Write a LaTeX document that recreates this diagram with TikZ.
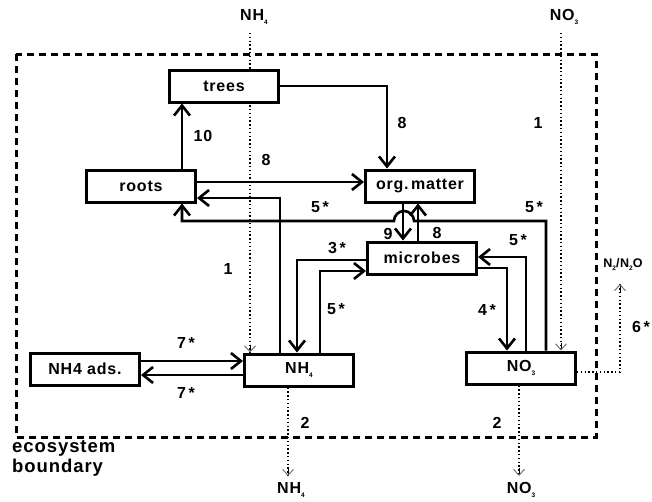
\documentclass[tikz,border=0pt]{standalone}
\usepackage{fontspec}
\usepackage{tikz}
\usetikzlibrary{arrows.meta,backgrounds}
\newfontfamily\diagfont[LetterSpace=5]{Liberation Sans}
\newcommand{\idx}[1]{\raisebox{-0.45ex}{\fontsize{6.5}{7}\selectfont #1}}

\begin{document}
\begin{tikzpicture}[
  x=1pt, y=-1pt,
  box/.style={draw,fill=white,line width=3pt,minimum width=109pt,minimum height=32pt,
              inner sep=0pt,font=\diagfont\bfseries\fontsize{16}{18}\selectfont},
  arrow/.style={-{Straight Barb[length=10pt,width=16pt]},line width=2.6pt},
  flow/.style={line width=1.6pt,dash pattern=on 1.4pt off 2.4pt},
  flowtip/.style={-{Straight Barb[length=6pt,width=11pt,line width=1pt,color=black!55]}},
  lbl/.style={font=\diagfont\bfseries\fontsize{16}{18}\selectfont,inner sep=0pt},
  small/.style={font=\diagfont\bfseries\fontsize{12.5}{14}\selectfont,inner sep=0pt}
]
\useasboundingbox (0,0) rectangle (652,501);
% ecosystem boundary
\draw[line width=3pt,dash pattern=on 7pt off 5pt] (16,54) rectangle (596,437);
\node[font=\diagfont\bfseries\fontsize{18.5}{20}\selectfont,align=left,anchor=north west,inner sep=0pt]
  (bnd) at (12,440) {ecosystem\\boundary};

% pools
\node[box] (trees) at (224,86) {trees};
\node[box] (roots) at (141,186) {roots};
\node[box] (org) at (420,186) {org.\hspace{0.15em}matter};
\node[box] (mic) at (422,258) {microbes};
\node[box] (ads) at (85,369) {NH4 ads.};
\node[box] (nh) at (299,370) {NH\idx{4}};
\node[box] (no) at (521,368) {NO\idx{3}};

% inputs and outputs
\node[lbl] (nhin) at (254,17) {NH\idx{4}};
\node[lbl] (noin) at (564,17) {NO\idx{3}};
\node[lbl] (nhout) at (291,490) {NH\idx{4}};
\node[lbl] (noout) at (521,490) {NO\idx{3}};
\node[small] (gas) at (623,264) {N\idx{2}/N\idx{2}O};
\coordinate (nhsrc) at (250,33);
\coordinate (nosrc) at (561,33);
\coordinate (nhsink) at (288,476);
\coordinate (nosink) at (519,476);
\coordinate (gassink) at (620,284);

\begin{pgfonlayer}{background}
\draw[flow] (nhsrc) -- (nhsrc |- nh.north)
  node[lbl,at={(266,160)}] {8} node[lbl,at={(228,269)}] {1};
\draw[flowtip] ([yshift=8pt]nhsrc |- nh.north) -- (nhsrc |- nh.north);
\draw[flow] (nosrc) -- (nosrc |- no.north) node[lbl,at={(538,123)}] {1};
\draw[flowtip] ([yshift=8pt]nosrc |- no.north) -- (nosrc |- no.north);
\end{pgfonlayer}
\draw[flow] (nhsink |- nh.south) -- (nhsink) node[lbl,at={(305,423)}] {2};
\draw[flowtip] ([yshift=8pt]nhsink) -- (nhsink);
\draw[flow] (nosink |- no.south) -- (nosink) node[lbl,at={(497,423)}] {2};
\draw[flowtip] ([yshift=8pt]nosink) -- (nosink);
\draw[flow] ([yshift=-4pt]no.east) -| (gassink) node[lbl,at={(641,327)}] {6\,*};
\draw[flowtip] ([yshift=-8pt]gassink) -- (gassink);

% fluxes
\draw[arrow] ([xshift=41pt]roots.north) -- ([xshift=41pt]roots.north |- trees.south)
  node[lbl,at={(203,136)}] {10};
\draw[arrow] (trees.east) -| ([xshift=-33pt]org.north) node[lbl,at={(402,123)}] {8};
\draw[arrow] ([yshift=4pt]roots.east) -- ([yshift=4pt]org.west);
\draw[arrow] ([xshift=-19pt]nh.north) |- ([yshift=-12pt]roots.east)
  node[lbl,at={(320,207)}] {5\,*};
\draw[arrow] ([xshift=25pt]no.north) |- (418,221) -- (414,221)
  arc[start angle=0,end angle=180,radius=10pt] -- (182,221) -- ([xshift=41pt]roots.south)
  node[lbl,at={(534,207)}] {5\,*};
\draw[arrow] ([xshift=-17pt]org.south) -- ([xshift=-17pt]org.south |- mic.north)
  node[lbl,at={(388,234)}] {9};
\draw[arrow] ([xshift=-4pt]mic.north) -- ([xshift=-4pt]mic.north |- org.south)
  node[lbl,at={(437,233)}] {8};
\draw[arrow] ([yshift=-2pt]mic.west) -| ([xshift=-2pt]nh.north) node[lbl,at={(337,248)}] {3\,*};
\draw[arrow] ([xshift=21pt]nh.north) |- ([yshift=-13pt]mic.west) node[lbl,at={(336,309)}] {5\,*};
\draw[arrow] ([yshift=-10pt]mic.east) -| ([xshift=-14pt]no.north) node[lbl,at={(487,310)}] {4\,*};
\draw[arrow] ([xshift=5pt]no.north) |- ([yshift=1pt]mic.east) node[lbl,at={(518,240)}] {5\,*};
\draw[arrow] ([yshift=8pt]ads.east) -- ([yshift=8pt]ads.east -| nh.west)
  node[lbl,at={(186,343)}] {7\,*};
\draw[arrow] ([yshift=-6pt]ads.east -| nh.west) -- ([yshift=-6pt]ads.east)
  node[lbl,at={(186,393)}] {7\,*};
\end{tikzpicture}
\end{document}
